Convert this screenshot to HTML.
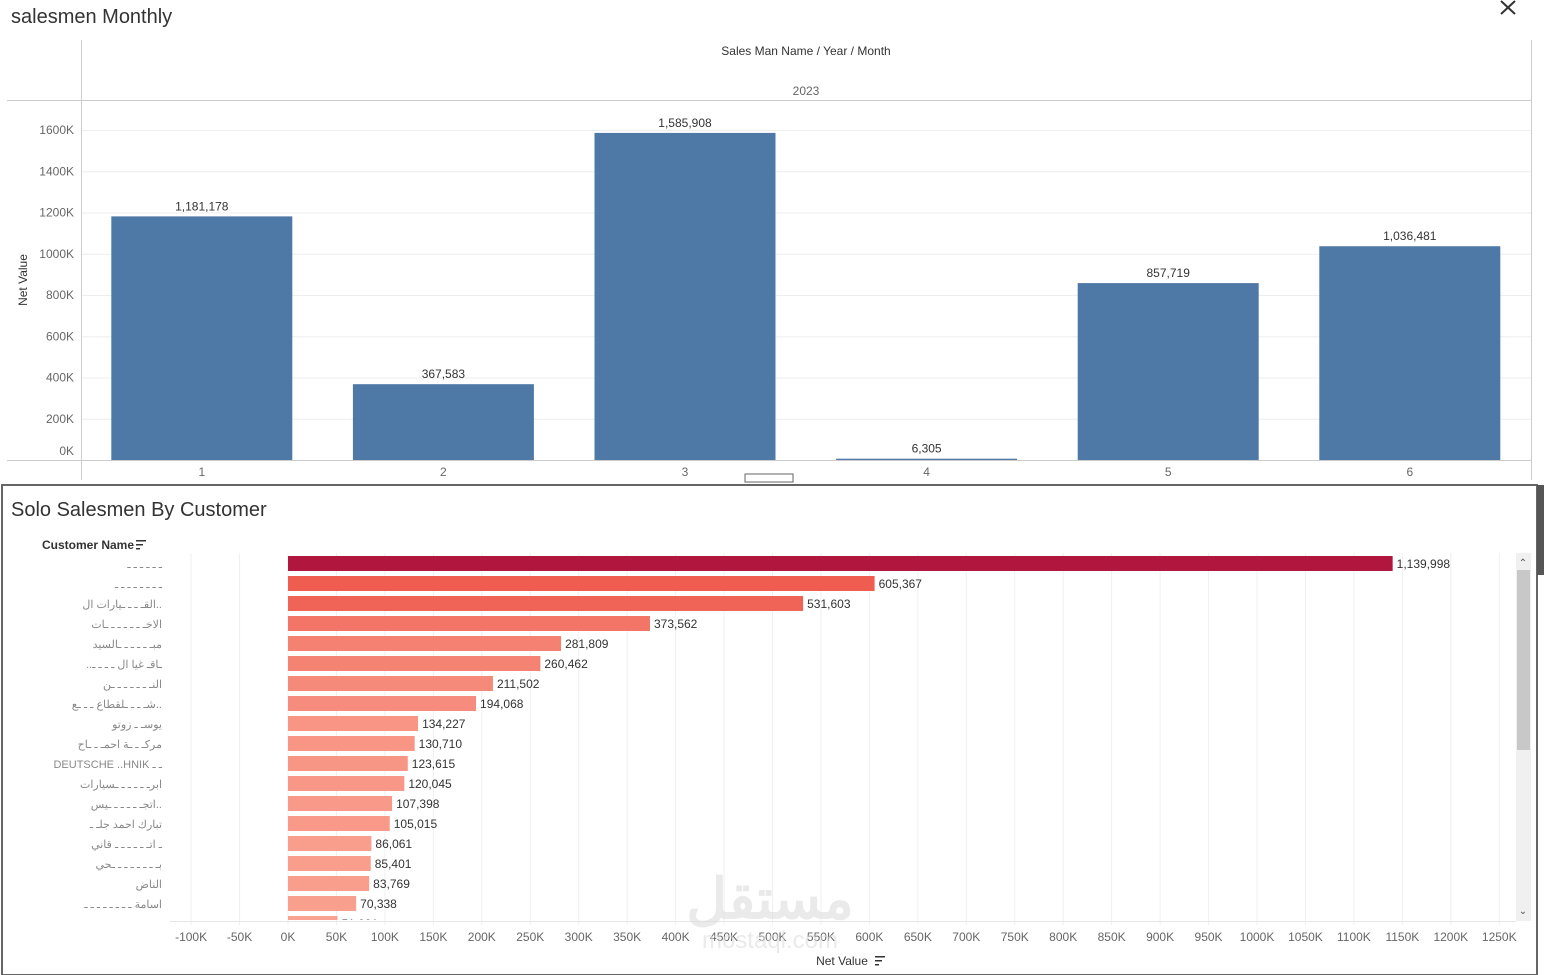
<!DOCTYPE html>
<html><head><meta charset="utf-8"><style>
html,body{margin:0;padding:0;width:1544px;height:975px;overflow:hidden;background:#fff;font-family:"Liberation Sans","Noto Sans CJK SC",sans-serif;}
svg text{font-family:"Liberation Sans","Noto Sans CJK SC",sans-serif;}
</style></head><body>
<svg id="chart" width="1544" height="975" xmlns="http://www.w3.org/2000/svg">
<text x="11" y="23" font-size="20" fill="#333">salesmen Monthly</text>
<g stroke="#333" stroke-width="2"><line x1="1501" y1="1" x2="1515" y2="14"/><line x1="1515" y1="1" x2="1501" y2="14"/></g>
<text x="806" y="55" font-size="12" fill="#333" text-anchor="middle">Sales Man Name  /  Year  /  Month</text>
<text x="806" y="95" font-size="12" fill="#666" text-anchor="middle">2023</text>
<line x1="81.5" y1="40" x2="81.5" y2="480" stroke="#ccc"/>
<line x1="7" y1="100.5" x2="1531" y2="100.5" stroke="#ccc"/>
<line x1="1531.5" y1="40" x2="1531.5" y2="480" stroke="#ccc"/>
<line x1="7" y1="460.5" x2="1531" y2="460.5" stroke="#ccc"/>
<text x="27" y="280" font-size="12" fill="#333" text-anchor="middle" transform="rotate(-90 27 280)">Net Value</text>
<g id="topg"></g>
<rect x="745" y="474" width="48" height="8" fill="#fff" stroke="#666"/>
<rect x="2" y="485" width="1535" height="490" fill="none" stroke="#666" stroke-width="2"/>
<rect x="1537" y="485" width="7" height="90" fill="#555"/>
<text x="11" y="516" font-size="20" fill="#333">Solo Salesmen By Customer</text>
<text x="42" y="549" font-size="12" fill="#333" font-weight="bold">Customer Name</text>
<g fill="#333"><rect x="136" y="540" width="10" height="1.5"/><rect x="136" y="544" width="7" height="1.5"/><rect x="136" y="548" width="4" height="1.5"/></g>
<g id="bot"></g>
<rect x="1516" y="553" width="15" height="368" fill="#f0f0f0"/>
<rect x="1517" y="570" width="13" height="180" fill="#c8c8c8"/>
<text x="1523" y="566" font-size="10" fill="#555" text-anchor="middle">⌃</text>
<text x="1523" y="914" font-size="10" fill="#555" text-anchor="middle">⌄</text>
<text x="842" y="965" font-size="12" fill="#333" text-anchor="middle">Net Value</text>
<g fill="#333"><rect x="875" y="956" width="10" height="1.5"/><rect x="875" y="960" width="7" height="1.5"/><rect x="875" y="964" width="4" height="1.5"/></g>
<text x="770" y="918" font-size="56" fill="#ddd" opacity="0.6" text-anchor="middle" font-weight="bold">مستقل</text>
<text x="770" y="948" font-size="24" fill="#ddd" opacity="0.6" text-anchor="middle">mostaql.com</text>
</svg>
<script>
const months=["1","2","3","4","5","6"];
const monthValues=[1181178,367583,1585908,6305,857719,1036481];
const yTicks=[0,200,400,600,800,1000,1200,1400,1600];
const customers=["ـ ـ ـ ـ ـ ـ","ـ ـ ـ ـ ـ ـ ـ ـ","القـ ـ ـ ـيارات ال..","الاخـ ـ ـ ـ ـ ـ ـات","مبـ ـ ـ ـ ـ ـالسيد","..ـاقـ غيا ال ـ ـ ـ ـ","النـ ـ ـ ـ ـ ـ ـن","شـ ـ ـ ـلقطاع ـ ـ ـع..","يوسـ ـ زوتو","مركـ ـ ـة احمـ ـ ـاح","DEUTSCHE ..HNIK ـ ـ","ابرـ ـ ـ ـ ـ ـسيارات","اتجـ ـ ـ ـ ـ ـيس..","تبارك احمد جلـ ـ","ـ اتـ ـ ـ ـ ـ ـ قاني","بـ ـ ـ ـ ـ ـ ـ ـحي","الناض","اسامة ـ ـ ـ ـ ـ ـ ـ ـ","ـ ـ ـ ـ ـ ـ"];
const custValues=[1139998,605367,531603,373562,281809,260462,211502,194068,134227,130710,123615,120045,107398,105015,86061,85401,83769,70338,51091];
const xTicks=[-100,-50,0,50,100,150,200,250,300,350,400,450,500,550,600,650,700,750,800,850,900,950,1000,1050,1100,1150,1200,1250];
const NS="http://www.w3.org/2000/svg";
function mk(tag,attrs,parent,text){const e=document.createElementNS(NS,tag);for(const k in attrs)e.setAttribute(k,attrs[k]);if(text!==undefined)e.textContent=text;parent.appendChild(e);return e;}
const fmt=v=>v.toLocaleString("en-US");
const topG=document.getElementById("topg");
const yS=v=>460-v/1000*0.20625;
const band=241.6, x0=82;
yTicks.forEach(t=>{
 const y=yS(t*1000);
 if(t>0)mk("line",{x1:82,x2:1531,y1:y+0.5,y2:y+0.5,stroke:"#eee"},topG);
 const l=mk("text",{x:74,y:(t===0?y-5:y+4),"font-size":12,fill:"#666","text-anchor":"end"},topG,t+"K");
 
 
});
months.forEach((m,i)=>{
 const cx=x0+band*(i+0.5)-1, v=monthValues[i], y=yS(v);
 const r=mk("rect",{x:cx-90.5,y:y,width:181,height:Math.max(460-y,1),fill:"#4e79a7"},topG);
 
 
 const t=mk("text",{x:cx,y:y-6,"font-size":12,fill:"#333","text-anchor":"middle"},topG,fmt(v));
 
 
 const xl=mk("text",{x:cx,y:476,"font-size":12,fill:"#666","text-anchor":"middle"},topG,m);
 
 
});
const bot=document.getElementById("bot");
const xS=v=>288+v/1000*0.969;
const clip=mk("clipPath",{id:"cp"},bot);mk("rect",{x:0,y:550,width:1516,height:370},clip);
xTicks.forEach(t=>{
 const x=xS(t*1000);
 mk("line",{x1:x,x2:x,y1:553,y2:925,stroke:"#f0f0f0"},bot);
 const l=mk("text",{x:x,y:941,"font-size":12,fill:"#666","text-anchor":"middle"},bot,t+"K");
 
 
});
mk("line",{x1:170,x2:1516,y1:921.5,y2:921.5,stroke:"#e6e6e6"},bot);
const g=mk("g",{"clip-path":"url(#cp)"},bot);
const maxV=Math.max(...custValues);
function col(v){const f=Math.pow(v/maxV,0.75);const a=[252,176,158],b=[238,88,76],c=[176,22,62];
 let p,q,t;if(f<0.65){p=a;q=b;t=f/0.65;}else{p=b;q=c;t=(f-0.65)/0.35;}
 return "rgb("+p.map((x,i)=>Math.round(x+(q[i]-x)*t)).join(",")+")";}
customers.forEach((c,i)=>{
 const y=556+i*20, v=custValues[i];
 const r=mk("rect",{x:288,y:y,width:xS(v)-288,height:15,fill:col(v)},g);
 
 
 const t=mk("text",{x:xS(v)+4,y:y+12,"font-size":12,fill:"#333"},g,fmt(v));
 
 
 const n=mk("text",{x:162,y:y+12,"font-size":11,fill:"#888","text-anchor":"end"},g,c);
 
 
});
</script>
</body></html>
